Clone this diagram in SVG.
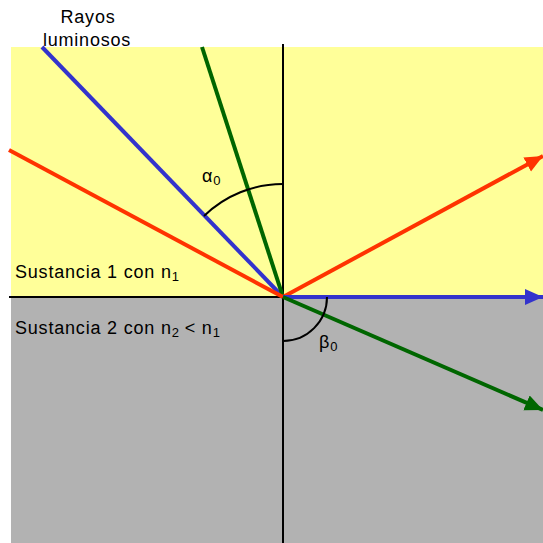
<svg xmlns="http://www.w3.org/2000/svg" width="543" height="543" viewBox="0 0 543 543">
<style>
.t{font-family:"Liberation Sans",Arial,sans-serif;font-size:18px;letter-spacing:0.8px;fill:#000}
.s{font-size:13px;letter-spacing:0}
.ray{stroke-width:4;fill:none}
.blk{stroke:#000;stroke-width:2;fill:none}
</style>
<defs>
<marker id="ar" markerUnits="userSpaceOnUse" markerWidth="20" markerHeight="20" refX="18" refY="8" orient="auto"><path d="M0,0 L18,8 L0,16 Z" fill="#FF3300"/></marker>
<marker id="ab" markerUnits="userSpaceOnUse" markerWidth="20" markerHeight="20" refX="18" refY="8" orient="auto"><path d="M0,0 L18,8 L0,16 Z" fill="#3333CC"/></marker>
<marker id="ag" markerUnits="userSpaceOnUse" markerWidth="20" markerHeight="20" refX="18" refY="8" orient="auto"><path d="M0,0 L18,8 L0,16 Z" fill="#006600"/></marker>
</defs>
<g id="medium1"><rect x="11" y="47" width="532" height="250" fill="#FFFF99"/>
<text class="t" x="15" y="278">Sustancia 1 con n<tspan class="s" dy="3">1</tspan></text></g>
<g id="medium2"><rect x="11" y="297" width="532" height="246" fill="#B2B2B2"/>
<text class="t" x="15" y="334">Sustancia 2 con n<tspan class="s" dy="3">2</tspan><tspan dy="-3"> &lt; n</tspan><tspan class="s" dy="3">1</tspan></text></g>
<g id="label-rays"><text class="t" x="88" y="23" text-anchor="middle">Rayos</text><text class="t" x="87" y="46" text-anchor="middle">luminosos</text></g>
<g id="connectors">
<line class="blk" x1="283" y1="44" x2="283" y2="543"/>
<line class="blk" x1="9" y1="297" x2="283" y2="297"/>
<line class="ray" stroke="#3333CC" x1="42" y1="47" x2="283" y2="297"/>
<line class="ray" stroke="#006600" x1="202" y1="47" x2="283" y2="297"/>
<line class="ray" stroke="#FF3300" x1="9" y1="150" x2="283" y2="297"/>
<line class="ray" stroke="#FF3300" x1="283" y1="297" x2="543" y2="156" marker-end="url(#ar)"/>
<line class="ray" stroke="#3333CC" x1="283" y1="297" x2="543" y2="297" marker-end="url(#ab)"/>
<line class="ray" stroke="#006600" x1="283" y1="297" x2="543" y2="410" marker-end="url(#ag)"/>
</g>
<g id="angle-alpha"><path class="blk" d="M283,184 A113,113 0 0 0 204,216"/>
<text class="t" x="202" y="182">α<tspan class="s" dy="3">0</tspan></text></g>
<g id="angle-beta"><path class="blk" d="M283,341 A44,44 0 0 0 327,297"/>
<text class="t" x="319" y="348">β<tspan class="s" dy="3">0</tspan></text></g>
</svg>
